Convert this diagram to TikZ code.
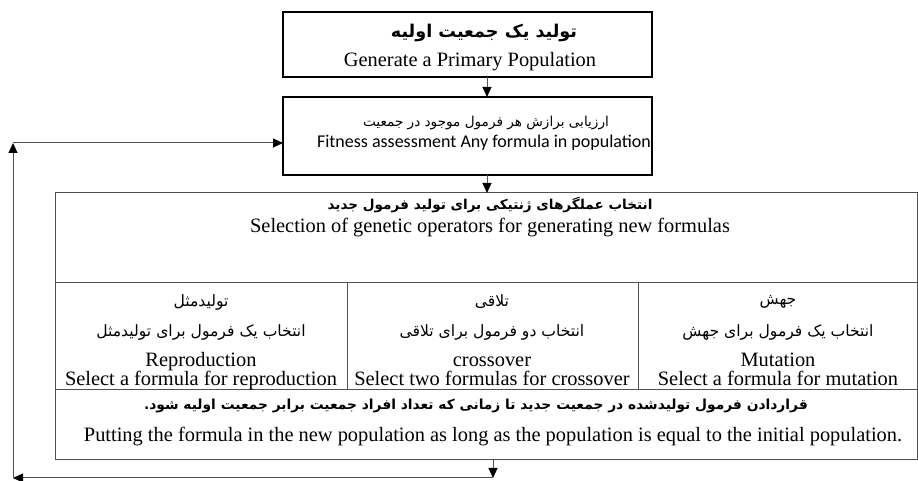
\documentclass[tikz,border=0pt]{standalone}
\usepackage{fontspec}
\setmainfont{Liberation Serif}
\newfontfamily\farsifont[Script=Arabic]{DejaVu Sans}
\newfontfamily\calibrifont{Carlito}
\TeXXeTstate=1
\usepackage{tikz}
\usetikzlibrary{arrows.meta,positioning}
\usepackage{xcolor}
\definecolor{galine}{RGB}{80,80,80}
\newcommand{\fatxt}[1]{{\farsifont\beginR #1\endR}}
\tikzstyle{thickbox} = [draw=black, line width=1pt, inner sep=0pt, outer sep=0pt, anchor=north west, minimum width=184.5pt]
\tikzstyle{cell} = [draw=galine, line width=0.5pt, inner sep=0pt, outer sep=0pt, anchor=north west]
\tikzstyle{fatext} = [font=\fontsize{7.8}{8}\farsifont, inner sep=0pt]
\tikzstyle{fahead} = [font=\fontsize{6.8}{8}\farsifont\bfseries, inner sep=0pt]
\tikzstyle{entext} = [font=\fontsize{10.2}{12}\selectfont, inner sep=0pt]
\tikzstyle{arrow} = [line width=0.5pt, color=galine, -{Triangle[length=5pt,width=4.5pt,color=black]}]

\begin{document}
\begin{tikzpicture}[x=0.5pt, y=-0.5pt]
\useasboundingbox (0,0) rectangle (918,481);

% Boxes
\node[thickbox, minimum height=32.5pt] (gen) at (283,12) {};
\node[thickbox, minimum height=39pt] (fit) at (283,97) {};
\node[cell, minimum width=431pt, minimum height=45pt] (selhead) at (55,193) {};
\node[cell, minimum width=146pt, minimum height=53.5pt] (repro) at (55,283) {};
\node[cell, minimum width=145.5pt, minimum height=53.5pt] (cross) at (347,283) {};
\node[cell, minimum width=139.5pt, minimum height=53.5pt] (mut) at (638,283) {};
\node[cell, minimum width=431pt, minimum height=35pt] (putback) at (55,390) {};

% Texts
\node[fahead, font=\fontsize{8.8}{10}\farsifont\bfseries] (genfa) at (484,33) {\fatxt{تولید یک جمعیت اولیه}};
\node[entext] (genen) at (470,62) {Generate a Primary Population};
\node[fatext, font=\fontsize{6.8}{8}\farsifont] (fitfa) at (486,123) {\fatxt{ارزیابی برازش هر فرمول موجود در جمعیت}};
\node[entext, font=\fontsize{9}{11}\calibrifont] (fiten) at (484,143) {Fitness assessment Any formula in population};
\node[fahead] (selfa) at (490,205) {\fatxt{انتخاب عملگرهای ژنتیکی برای تولید فرمول جدید}};
\node[entext] (selen) at (490,228) {Selection of genetic operators for generating new formulas};

\node[fatext] (reprofa) at (201,302) {\fatxt{تولیدمثل}};
\node[fatext] (reprofb) at (201,332) {\fatxt{انتخاب یک فرمول برای تولیدمثل}};
\node[entext, anchor=base] (reproen) at (201,367) {Reproduction};
\node[entext, anchor=base] (reproeb) at (201,386) {Select a formula for reproduction};

\node[fatext] (crossfa) at (492,302) {\fatxt{تلاقی}};
\node[fatext] (crossfb) at (492,332) {\fatxt{انتخاب دو فرمول برای تلاقی}};
\node[entext, anchor=base] (crossen) at (492,367) {crossover};
\node[entext, anchor=base] (crosseb) at (492,386) {Select two formulas for crossover};

\node[fatext] (mutfa) at (778,302) {\fatxt{جهش}};
\node[fatext] (mutfb) at (778,332) {\fatxt{انتخاب یک فرمول برای جهش}};
\node[entext, anchor=base] (muten) at (778,367) {Mutation};
\node[entext, anchor=base] (muteb) at (778,386) {Select a formula for mutation};

\node[fahead, font=\fontsize{6.9}{8}\farsifont\bfseries] (putfa) at (476,406) {\fatxt{قراردادن فرمول تولیدشده در جمعیت جدید تا زمانی که تعداد افراد جمعیت برابر جمعیت اولیه شود.}};
\node[entext] (puten) at (493,437) {Putting the formula in the new population as long as the population is equal to the initial population.};

% Arrows
\coordinate (ax) at (487,0);
\coordinate (bx) at (493,478);
\coordinate (cx) at (13,478);
\coordinate (dx) at (13,143);
\draw[arrow] (gen.south -| ax) -- (fit.north -| ax);
\draw[arrow] (fit.south -| ax) -- (selhead.north -| ax);
\draw[arrow] (putback.south -| bx) -- (bx);
\draw[arrow] (bx) -- (cx);
\draw[arrow] (cx) -- (dx);
\draw[arrow] (dx) -- (fit.west |- dx);
\end{tikzpicture}
\end{document}
